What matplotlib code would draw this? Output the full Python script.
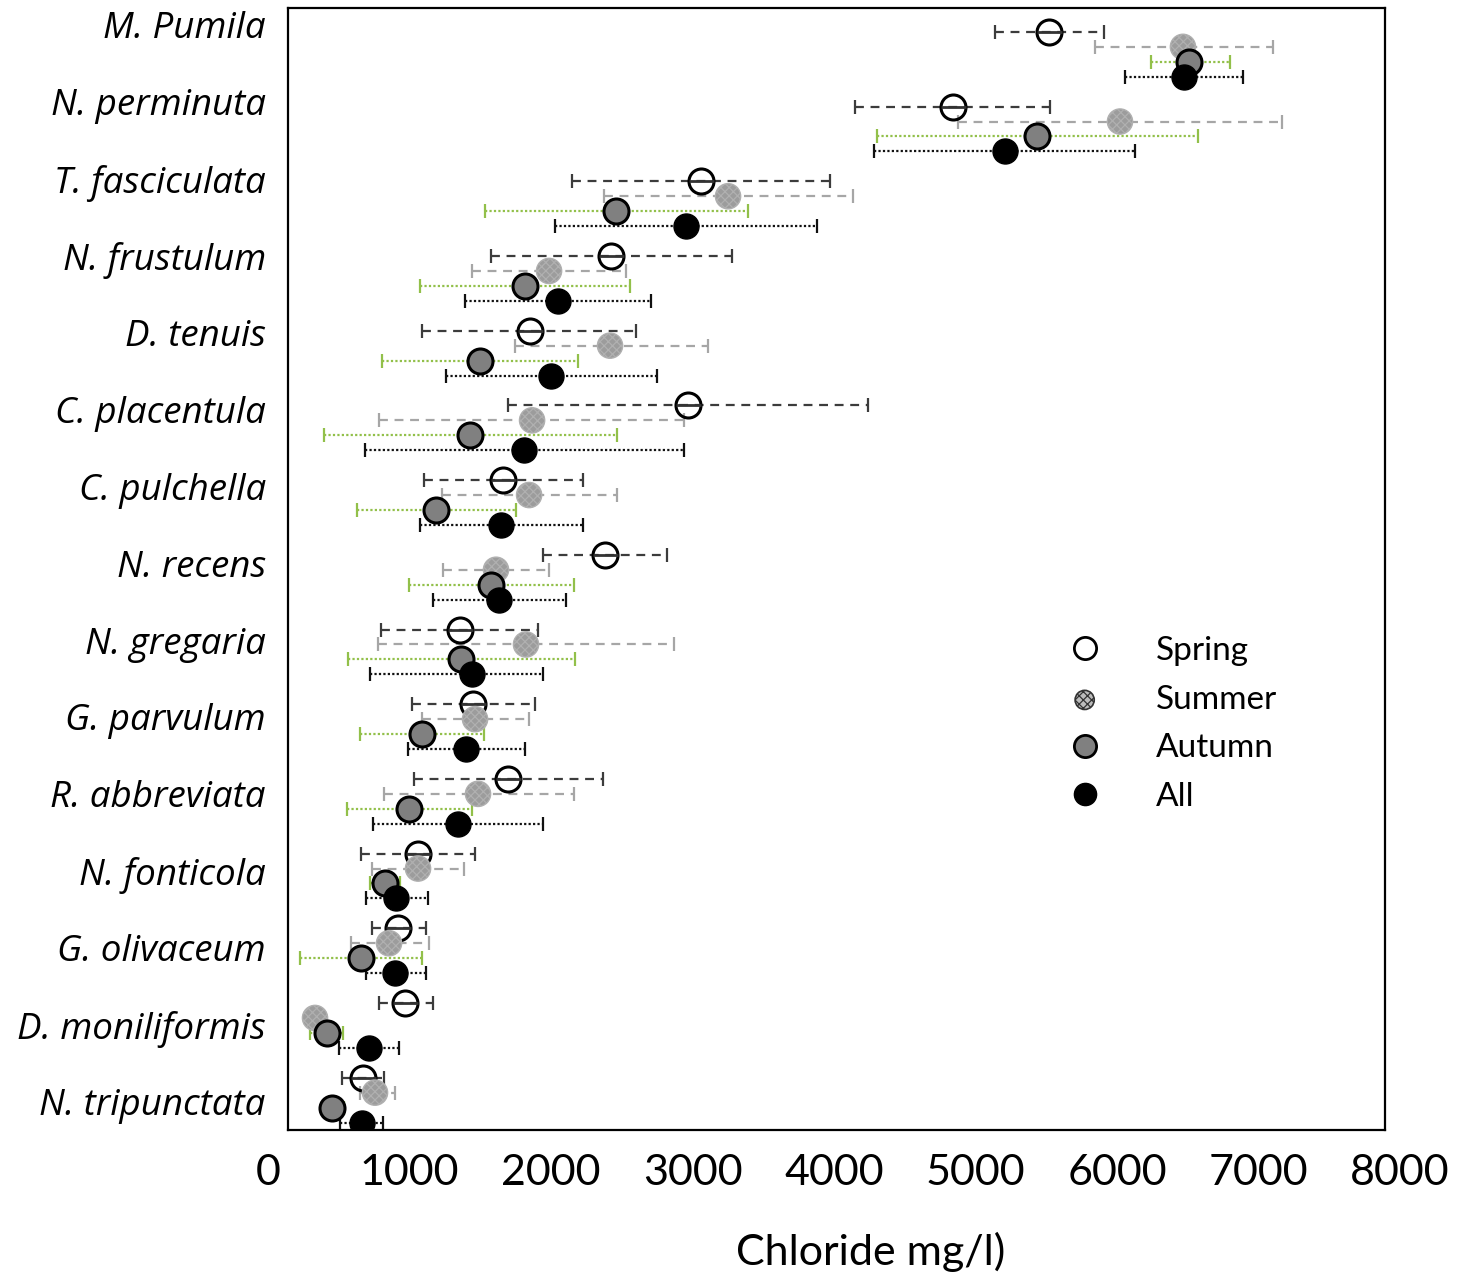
import numpy as np
import matplotlib.pyplot as plt
import matplotlib.transforms as mtransforms
from matplotlib.lines import Line2D

plt.rcParams['font.family'] = ['Lato', 'DejaVu Sans']
plt.rcParams['hatch.color'] = '#3a3a3a'
plt.rcParams['hatch.linewidth'] = 0.9

species = ["M. Pumila", "N. perminuta", "T. fasciculata", "N. frustulum", "D. tenuis",
           "C. placentula", "C. pulchella", "N. recens", "N. gregaria", "G. parvulum",
           "R. abbreviata", "N. fonticola", "G. olivaceum", "D. moniliformis", "N. tripunctata"]

# chloride mg/l : mean, lower and upper end of the error bar
spring_mean = [5519, 4841, 3060, 2424, 1852, 2968, 1661, 2382, 1357, 1449, 1696, 1060, 919, 968, 671]
spring_low = [5138, 4148, 2148, 1576, 1088, 1693, 1102, 1943, 799, 1018, 1032, 657, 735, 784, 523]
spring_high = [5908, 5527, 3972, 3279, 2601, 4240, 2226, 2820, 1908, 1887, 2367, 1463, 1117, 1166, 820]

summer_mean = [6466, 6021, 3251, 1986, 2417, 1866, 1845, 1611, 1823, 1463, 1484, 1060, 855, 332, 756]
summer_low = [5845, 4876, 2375, 1442, 1746, 784, 1230, 1237, 777, 1088, 820, 735, 587, 262, 650]
summer_high = [7102, 7166, 4134, 2530, 3110, 2940, 2466, 1986, 2869, 1845, 2163, 1385, 1138, 402, 898]

autumn_mean = [6509, 5435, 2459, 1816, 1498, 1428, 1187, 1576, 1364, 1088, 996, 827, 657, 417, 452]
autumn_low = [6240, 4304, 1534, 1074, 806, 396, 629, 996, 565, 650, 558, 721, 226, 297, 382]
autumn_high = [6798, 6572, 3392, 2558, 2191, 2466, 1753, 2163, 2170, 1527, 1442, 933, 1088, 530, 537]

all_mean = [6473, 5208, 2954, 2049, 2000, 1809, 1647, 1632, 1442, 1399, 1343, 905, 898, 714, 664]
all_low = [6057, 4283, 2028, 1392, 1258, 686, 1074, 1166, 721, 989, 742, 693, 693, 502, 509]
all_high = [6890, 6127, 3880, 2707, 2749, 2940, 2226, 2106, 1943, 1816, 1943, 1131, 1117, 926, 813]

xticks = [0, 1000, 2000, 3000, 4000, 5000, 6000, 7000, 8000]

fig = plt.figure(figsize=(14.66, 12.72), dpi=100)
ax = fig.add_axes([288/1466, 1 - 1130/1272, (1385-288)/1466, (1130-8)/1272])

base = np.arange(len(species)) * 5


def bars(mean, low, high, offset, color, ls, lw=1.6):
    mean = np.array(mean)
    xerr = [mean - np.array(low), np.array(high) - mean]
    c = ax.errorbar(mean, base + offset, xerr=xerr, fmt='none', ecolor=color,
                    elinewidth=lw, capsize=5, capthick=lw, zorder=2)
    c.lines[2][0].set_linestyle(ls)
    return c


bars(spring_mean, spring_low, spring_high, 0, '#3c3c3c', (0, (4, 3)))
bars(summer_mean, summer_low, summer_high, 1, '#a6a6a6', (0, (4, 3)))
bars(autumn_mean, autumn_low, autumn_high, 2, '#92c04a', (0, (1, 1)))
bars(all_mean, all_low, all_high, 3, '#111111', (0, (1, 1)))

ax.plot(spring_mean, base + 0, ls='none', marker='o', ms=18, mfc='none', mec='black', mew=2.2, zorder=3)
ax.plot(spring_mean, base + 0, ls='none', marker='_', ms=18, mec='#333333', mew=2, zorder=3)
ax.scatter(summer_mean, base + 1, s=330, facecolor='#9c9c9c', edgecolor='#b0b0b0',
           linewidths=1, hatch='xxxx', zorder=4)
ax.plot(autumn_mean, base + 2, ls='none', marker='o', ms=18, mfc='#808080', mec='black', mew=2.2, zorder=5)
ax.plot(all_mean, base + 3, ls='none', marker='o', ms=18, mfc='black', mec='black', mew=1, zorder=6)

ax.set_xlim(141, 7894)
ax.set_ylim(73.5, -1.6)

# species labels
label_pos = -0.47 + 5.147 * np.arange(len(species))
ax.set_yticks(label_pos, species)
for t in ax.get_yticklabels():
    t.set_fontfamily(['Open Sans', 'Lato', 'DejaVu Sans'])
    t.set_fontstyle('italic')
    t.set_fontsize(26.5)
ax.tick_params(axis='y', length=0, pad=16)

# x tick labels (they run a bit past the plot frame)
ax.set_xticks([])
trans = mtransforms.blended_transform_factory(ax.transData, ax.transAxes)
for v in xticks:
    ax.text(v, -0.049, str(v), transform=trans, ha='center', va='baseline',
            fontsize=31, clip_on=False)

fig.text(871/1466, 1 - 1265/1272, "Chloride mg/l)", ha='center', va='baseline', fontsize=31)

for s in ax.spines.values():
    s.set_linewidth(1.6)

h_spring = Line2D([], [], ls='none', marker='o', ms=16, mfc='white', mec='black', mew=2)
h_summer = ax.scatter([], [], s=190, facecolor='#bcbcbc', edgecolor='#333333', linewidths=1.2, hatch='xxxx')
h_autumn = Line2D([], [], ls='none', marker='o', ms=16, mfc='#808080', mec='black', mew=2)
h_all = Line2D([], [], ls='none', marker='o', ms=16, mfc='black', mec='black')
ax.legend([h_spring, h_summer, h_autumn, h_all], ["Spring", "Summer", "Autumn", "All"],
          loc='upper left', bbox_to_anchor=(1068/1466, 1 - 636/1272), bbox_transform=fig.transFigure,
          frameon=False, fontsize=24, handlelength=1, handletextpad=1.65, labelspacing=0.56,
          borderpad=0, borderaxespad=0, scatterpoints=1)

fig.savefig("out.png", dpi=100)
